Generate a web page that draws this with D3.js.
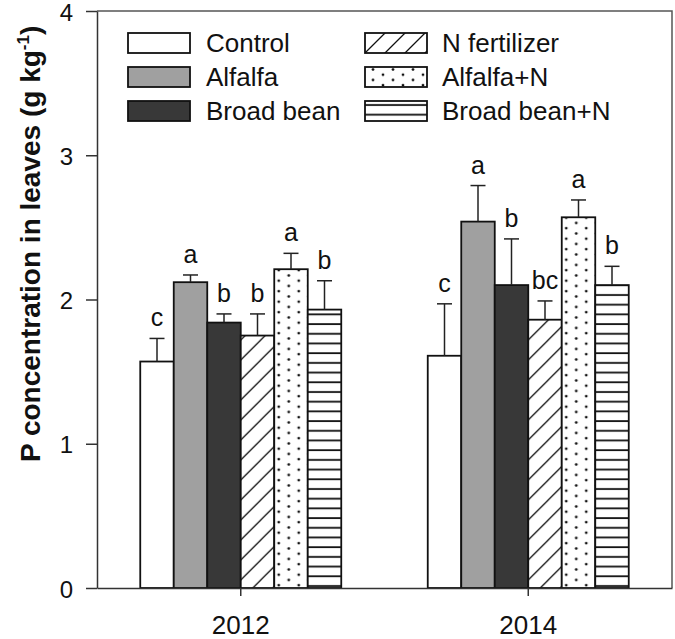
<!DOCTYPE html>
<html>
<head>
<meta charset="utf-8">
<script src="https://cdn.jsdelivr.net/npm/d3@7"></script>
<style>
    body { margin: 0; background: #fff; }
    svg { display: block; font-family: "Liberation Sans", Arial, sans-serif; }
</style>
</head>
<body>
<div id="container"></div>
<script>
// ---------------------------- DATA ----------------------------//
const years = ["2012", "2014"];
const treatments = ["Control", "Alfalfa", "Broad bean", "N fertilizer", "Alfalfa+N", "Broad bean+N"];
const means2012 = [1.57, 2.12, 1.84, 1.75, 2.21, 1.93];
const errors2012 = [0.16, 0.05, 0.06, 0.15, 0.11, 0.20];
const letters2012 = ["c", "a", "b", "b", "a", "b"];
const means2014 = [1.61, 2.54, 2.10, 1.86, 2.57, 2.10];
const errors2014 = [0.36, 0.25, 0.32, 0.13, 0.12, 0.13];
const letters2014 = ["c", "a", "b", "bc", "a", "b"];
const yTicks = [0, 1, 2, 3, 4];

const means = { "2012": means2012, "2014": means2014 };
const errors = { "2012": errors2012, "2014": errors2014 };
const letters = { "2012": letters2012, "2014": letters2014 };

// ------------------------- PREPARATION -------------------------//
const width = 675, height = 639;
const plotLeft = 97, plotRight = 672, plotTop = 11, plotBottom = 588;

const svg = d3.select("#container").append("svg")
    .attr("width", width)
    .attr("height", height);

const defs = svg.append("defs");

// diagonal hatch
const diag = defs.append("pattern")
    .attr("id", "diag")
    .attr("patternUnits", "userSpaceOnUse")
    .attr("width", 20).attr("height", 20);
diag.append("rect").attr("width", 20).attr("height", 20).attr("fill", "#fff");
diag.append("path")
    .attr("d", "M0,20 L20,0 M-5,5 L5,-5 M15,25 L25,15")
    .attr("stroke", "#111").attr("stroke-width", 1.3);

// dots
const dots = defs.append("pattern")
    .attr("id", "dots")
    .attr("patternUnits", "userSpaceOnUse")
    .attr("x", 8)
    .attr("width", 20).attr("height", 10.5);
dots.append("rect").attr("width", 20).attr("height", 10.5).attr("fill", "#fff");
dots.append("circle").attr("cx", 0).attr("cy", 2.5).attr("r", 1.4).attr("fill", "#111");
dots.append("circle").attr("cx", 20).attr("cy", 2.5).attr("r", 1.4).attr("fill", "#111");
dots.append("circle").attr("cx", 10).attr("cy", 7.75).attr("r", 1.4).attr("fill", "#111");

// horizontal lines
const hl = defs.append("pattern")
    .attr("id", "hlines")
    .attr("patternUnits", "userSpaceOnUse")
    .attr("width", 10).attr("height", 9.7);
hl.append("rect").attr("width", 10).attr("height", 9.7).attr("fill", "#fff");
hl.append("line")
    .attr("x1", 0).attr("x2", 10).attr("y1", 4).attr("y2", 4)
    .attr("stroke", "#111").attr("stroke-width", 1.8);

const fills = ["#ffffff", "#a0a0a0", "#383838", "url(#diag)", "url(#dots)", "url(#hlines)"];

// --------------------------- SCALES ---------------------------//
const x0 = d3.scaleBand().domain(years).range([plotLeft, plotRight]);
const x1 = d3.scaleBand().domain(treatments).range([-100.5, 100.5]);
const y = d3.scaleLinear().domain([0, 4]).range([plotBottom, plotTop]);

// frame (top and right)
svg.append("path")
    .attr("d", "M" + plotLeft + "," + plotTop + "H" + plotRight + "V" + plotBottom)
    .attr("fill", "none")
    .attr("stroke", "#555")
    .attr("stroke-width", 1.5);

// ---------------------------- BARS ----------------------------//
const groups = svg.selectAll("g.year")
    .data(years)
    .enter()
    .append("g")
    .attr("class", "year")
    .attr("transform", d => "translate(" + (x0(d) + x0.bandwidth() / 2) + ",0)");

const items = groups.selectAll("g.bar")
    .data(yr => treatments.map((t, i) => ({
        t: t, i: i, mean: means[yr][i], err: errors[yr][i], letter: letters[yr][i]
    })))
    .enter()
    .append("g")
    .attr("class", "bar");

items.append("rect")
    .attr("x", d => x1(d.t))
    .attr("y", d => y(d.mean))
    .attr("width", x1.bandwidth())
    .attr("height", d => y(0) - y(d.mean))
    .attr("fill", d => fills[d.i])
    .attr("stroke", "#111")
    .attr("stroke-width", 1.8);

// error bars (upper only)
items.append("line")
    .attr("x1", d => x1(d.t) + x1.bandwidth() / 2)
    .attr("x2", d => x1(d.t) + x1.bandwidth() / 2)
    .attr("y1", d => y(d.mean))
    .attr("y2", d => y(d.mean + d.err))
    .attr("stroke", "#222").attr("stroke-width", 1.5);

items.append("line")
    .attr("x1", d => x1(d.t) + x1.bandwidth() / 2 - 7.5)
    .attr("x2", d => x1(d.t) + x1.bandwidth() / 2 + 7.5)
    .attr("y1", d => y(d.mean + d.err))
    .attr("y2", d => y(d.mean + d.err))
    .attr("stroke", "#222").attr("stroke-width", 1.5);

items.append("text")
    .attr("x", d => x1(d.t) + x1.bandwidth() / 2)
    .attr("y", d => y(d.mean + d.err) - 12)
    .attr("text-anchor", "middle")
    .style("font-size", "25px")
    .attr("fill", "#111")
    .text(d => d.letter);

// ---------------------------- AXES ----------------------------//
const yAxis = d3.axisLeft(y)
    .tickValues(yTicks)
    .tickFormat(d3.format("d"))
    .tickSize(11)
    .tickSizeOuter(0)
    .tickPadding(13);

const gy = svg.append("g")
    .attr("transform", "translate(" + plotLeft + ",0)")
    .call(yAxis);
gy.selectAll("text").style("font-size", "24px").attr("fill", "#111").attr("dy", "0.38em");
gy.selectAll("line, path").attr("stroke", "#333").attr("stroke-width", 1.5);

const xAxis = d3.axisBottom(x0)
    .tickSize(8)
    .tickSizeOuter(0)
    .tickPadding(20);

const gx = svg.append("g")
    .attr("transform", "translate(0," + plotBottom + ")")
    .call(xAxis);
gx.selectAll("text").style("font-size", "26px").attr("fill", "#111");
gx.selectAll("line, path").attr("stroke", "#333").attr("stroke-width", 1.5);

// y label
const ylab = svg.append("text")
    .attr("transform", "rotate(-90)")
    .attr("x", -462)
    .attr("y", 40)
    .attr("text-anchor", "start")
    .style("font-size", "28px")
    .style("font-weight", "bold")
    .attr("fill", "#111");
ylab.append("tspan").text("P concentration in leaves (g kg");
ylab.append("tspan").attr("dy", -11).style("font-size", "17px").text("-1");
ylab.append("tspan").attr("dy", 11).text(")");

// --------------------------- LEGEND ---------------------------//
const legendX = [128, 365];
const legendY = [33, 67, 101];

const legend = svg.selectAll("g.legend")
    .data(treatments)
    .enter()
    .append("g")
    .attr("class", "legend")
    .attr("transform", (d, i) => "translate(" + legendX[Math.floor(i / 3)] + "," + legendY[i % 3] + ")");

legend.append("rect")
    .attr("width", 62)
    .attr("height", 20)
    .attr("fill", (d, i) => fills[i])
    .attr("stroke", "#111")
    .attr("stroke-width", 1.8);

legend.append("text")
    .attr("x", (d, i) => i < 3 ? 78 : 77)
    .attr("y", 19)
    .style("font-size", "26px")
    .attr("fill", "#111")
    .text(d => d);
</script>
</body>
</html>
